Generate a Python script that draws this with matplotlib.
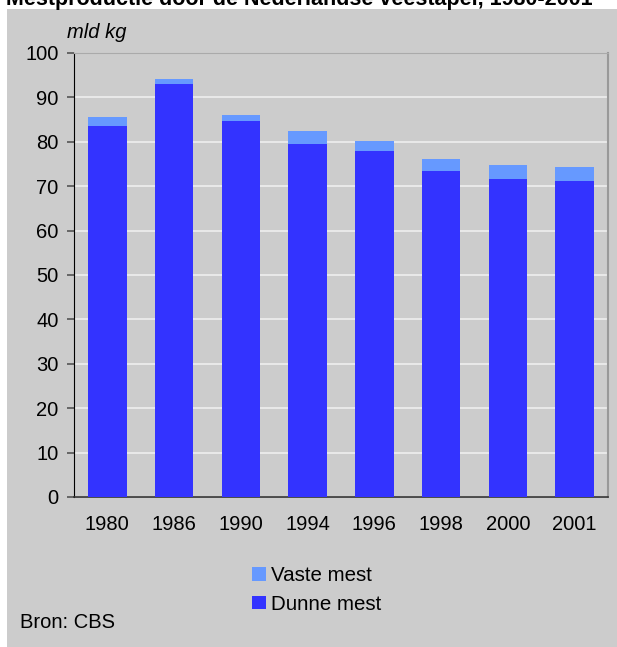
import matplotlib
matplotlib.use("Agg")
import matplotlib.pyplot as plt
from matplotlib.patches import Rectangle, Patch

plt.rcParams['font.family'] = ['Liberation Sans', 'DejaVu Sans']

years = ["1980", "1986", "1990", "1994", "1996", "1998", "2000", "2001"]
dunne_mest = [83.5, 93.0, 84.7, 79.5, 78.0, 73.4, 71.6, 71.2]
vaste_mest = [2.1, 1.1, 1.3, 2.9, 2.2, 2.7, 3.2, 3.1]
yticks = [0, 10, 20, 30, 40, 50, 60, 70, 80, 90, 100]

BG = "#cccccc"
DUNNE = "#3333ff"
VASTE = "#6699ff"

W, H = 617, 647
fig = plt.figure(figsize=(W / 100, H / 100), dpi=100, facecolor="white")

# grey panel behind everything
fig.patches.append(Rectangle((7 / W, 0), 1 - 7 / W, 1 - 9 / H,
                             transform=fig.transFigure, facecolor=BG,
                             edgecolor="none", zorder=-10))

fig.text(6 / W, 1 - 5 / H, "Mestproductie door de Nederlandse veestapel, 1980-2001",
         fontsize=15.5, fontweight="bold", ha="left", va="baseline")

ax = fig.add_axes([74 / W, 1 - 497 / H, (608 - 74) / W, (497 - 53) / H])
ax.set_zorder(1)
ax.set_facecolor(BG)

x = range(len(years))
ax.bar(x, dunne_mest, width=0.58, color=DUNNE, zorder=3)
ax.bar(x, vaste_mest, bottom=dunne_mest, width=0.58, color=VASTE, zorder=3)

ax.set_xlim(-0.5, len(years) - 0.5)
ax.set_ylim(0, 100)
ax.set_yticks(yticks)
ax.set_xticks(list(x))
ax.set_xticklabels(years)
ax.yaxis.grid(True, color="#eeeeee", linewidth=1.2, zorder=1)
ax.set_axisbelow(True)

ax.tick_params(axis="y", length=5, width=1.2, color="#555555", labelsize=14.5, pad=6)
ax.tick_params(axis="x", length=0, labelsize=14.5, pad=13)

ax.spines["left"].set_color("black")
ax.spines["bottom"].set_color("#333333")
ax.spines["bottom"].set_linewidth(1.2)
ax.spines["top"].set_color("#aaaaaa")
ax.spines["right"].set_color("#999999")
ax.spines["right"].set_linewidth(1.5)

fig.text(67 / W, 1 - 38 / H, "mld kg", fontsize=14.5, fontstyle="italic",
         ha="left", va="baseline")

handles = [Patch(facecolor=VASTE, edgecolor="none"),
           Patch(facecolor=DUNNE, edgecolor="none")]
fig.legend(handles, ["Vaste mest", "Dunne mest"], loc="center left",
           bbox_to_anchor=(242 / W, 1 - 590 / H), frameon=False,
           fontsize=14.8, handlelength=0.65, handleheight=0.65,
           handletextpad=0.25, labelspacing=0.45, borderpad=0)

fig.text(20 / W, 1 - 628 / H, "Bron: CBS", fontsize=14.5, ha="left", va="baseline")

fig.savefig("out.png", dpi=100, facecolor="white")
